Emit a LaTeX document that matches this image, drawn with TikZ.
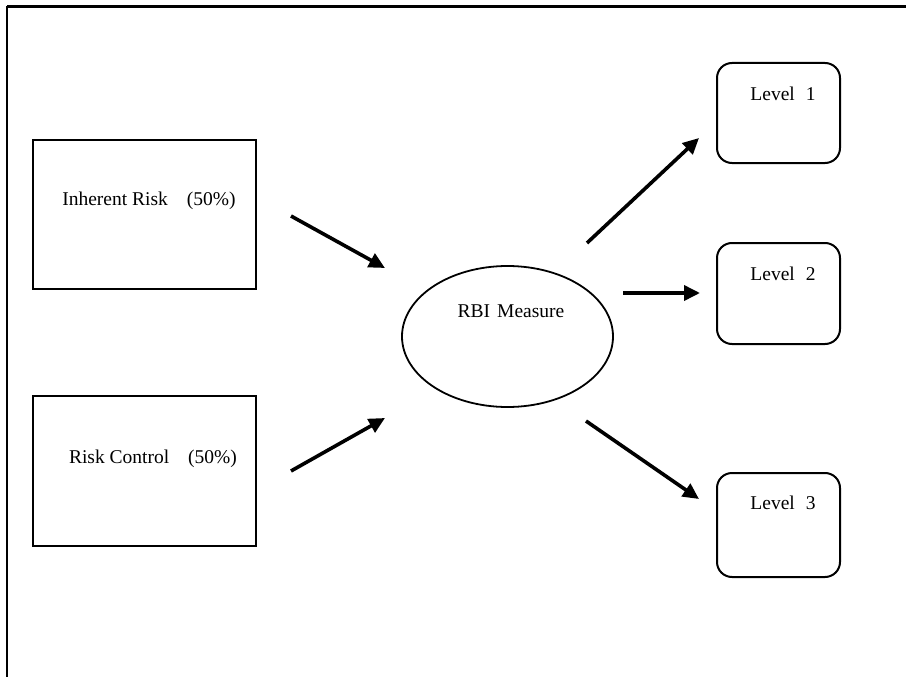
\documentclass[tikz,border=0pt]{standalone}
\usepackage{fontspec}
\setmainfont{Liberation Serif}
\usetikzlibrary{arrows.meta,shapes.geometric}
\begin{document}
\begin{tikzpicture}[x=1pt,y=-1pt,
  riskbox/.style={draw,line width=2pt,rectangle,minimum width=223pt,minimum height=149pt,inner sep=0pt,anchor=north west},
  levelbox/.style={draw,line width=2pt,rectangle,rounded corners=15pt,minimum width=123pt,minimum height=101pt,inner sep=0pt,anchor=north west},
  lbl/.style={font=\fontsize{19.5}{22}\selectfont,inner sep=0pt},
  arr/.style={line width=3.6pt,-{Triangle[length=16pt,width=15pt]}}]
\useasboundingbox (0,0) rectangle (906,677);
% frame
\draw[line width=3pt] (7,7) -- (906,7);
\draw[line width=2.4pt] (7,6) -- (7,677);
% left boxes
\node[riskbox] (ir) at (32,139) {};
\node[lbl] (irt) at (149,201) {Inherent Risk\hspace{19pt}(50\%)};
\node[riskbox,minimum height=150pt] (rc) at (32,395) {};
\node[lbl] (rct) at (153,459) {Risk Control\hspace{19pt}(50\%)};
% ellipse
\node[draw,ellipse,line width=1.8pt,minimum width=211pt,minimum height=141pt,inner sep=0pt] (rbi) at (507.5,336.5) {};
\node[lbl] (rbit) at (511,311) {RBI\hspace{7pt}Measure};
% level boxes
\node[levelbox,minimum height=100pt] (l1) at (716,62) {};
\node[lbl] (l1t) at (783,94) {Level\hspace{11pt}1};
\node[levelbox] (l2) at (716,242) {};
\node[lbl] (l2t) at (783,274) {Level\hspace{11pt}2};
\node[levelbox,minimum height=104pt] (l3) at (716,472) {};
\node[lbl] (l3t) at (783,503) {Level\hspace{11pt}3};
% arrow ends
\coordinate (a1s) at (291,216); \coordinate (a1e) at (385,268);
\coordinate (a2s) at (291,471); \coordinate (a2e) at (385,418);
\coordinate (a3s) at (587,243); \coordinate (a3e) at (699,138);
\coordinate (a4s) at (623,293); \coordinate (a4e) at (700,293);
\coordinate (a5s) at (586,421); \coordinate (a5e) at (699,499);
\draw[arr] (a1s) -- (a1e);
\draw[arr] (a2s) -- (a2e);
\draw[arr] (a3s) -- (a3e);
\draw[arr] (a4s) -- (a4e);
\draw[arr] (a5s) -- (a5e);
\end{tikzpicture}
\end{document}
